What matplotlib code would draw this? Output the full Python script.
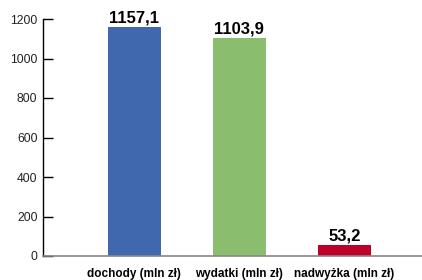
import matplotlib.pyplot as plt

categories = ['dochody (mln zł)', 'wydatki (mln zł)', 'nadwyżka (mln zł)']
values = [1157.1, 1103.9, 53.2]
value_labels = ['1157,1', '1103,9', '53,2']
colors = ['#3F68AE', '#8ABE6E', '#BE0029']

plt.rcParams['font.family'] = ['Liberation Sans Narrow', 'Liberation Sans', 'DejaVu Sans']

fig = plt.figure(figsize=(4.22, 2.8), dpi=100)
ax = fig.add_axes([43 / 422, 24 / 280, 1 - 43 / 422, 237 / 280])

x = range(len(values))
bars = ax.bar(x, values, width=0.505, color=colors)
for b, lab in zip(bars, value_labels):
    ax.text(b.get_x() + b.get_width() / 2, b.get_height() + 8, lab,
            ha='center', va='bottom', fontsize=12, fontweight='bold',
            family=['Liberation Sans', 'DejaVu Sans'])

ax.set_xlim(-0.87, 2.74)
ax.set_ylim(0, 1200)
ax.set_yticks([0, 200, 400, 600, 800, 1000, 1200])
ax.tick_params(axis='y', direction='in', length=7, width=1, pad=4,
               labelsize=8.8, labelcolor='#222222')
for t in ax.get_yticklabels():
    t.set_family(['Liberation Sans', 'DejaVu Sans'])
ax.set_xticks(list(x))
ax.set_xticklabels(categories, fontsize=8.5, fontweight='bold')
ax.tick_params(axis='x', length=0, pad=9)

for s in ['top', 'right']:
    ax.spines[s].set_visible(False)
ax.spines['bottom'].set_color('#888888')
ax.spines['bottom'].set_linewidth(1.2)
ax.spines['left'].set_linewidth(1)

fig.savefig('out.png', dpi=100)
